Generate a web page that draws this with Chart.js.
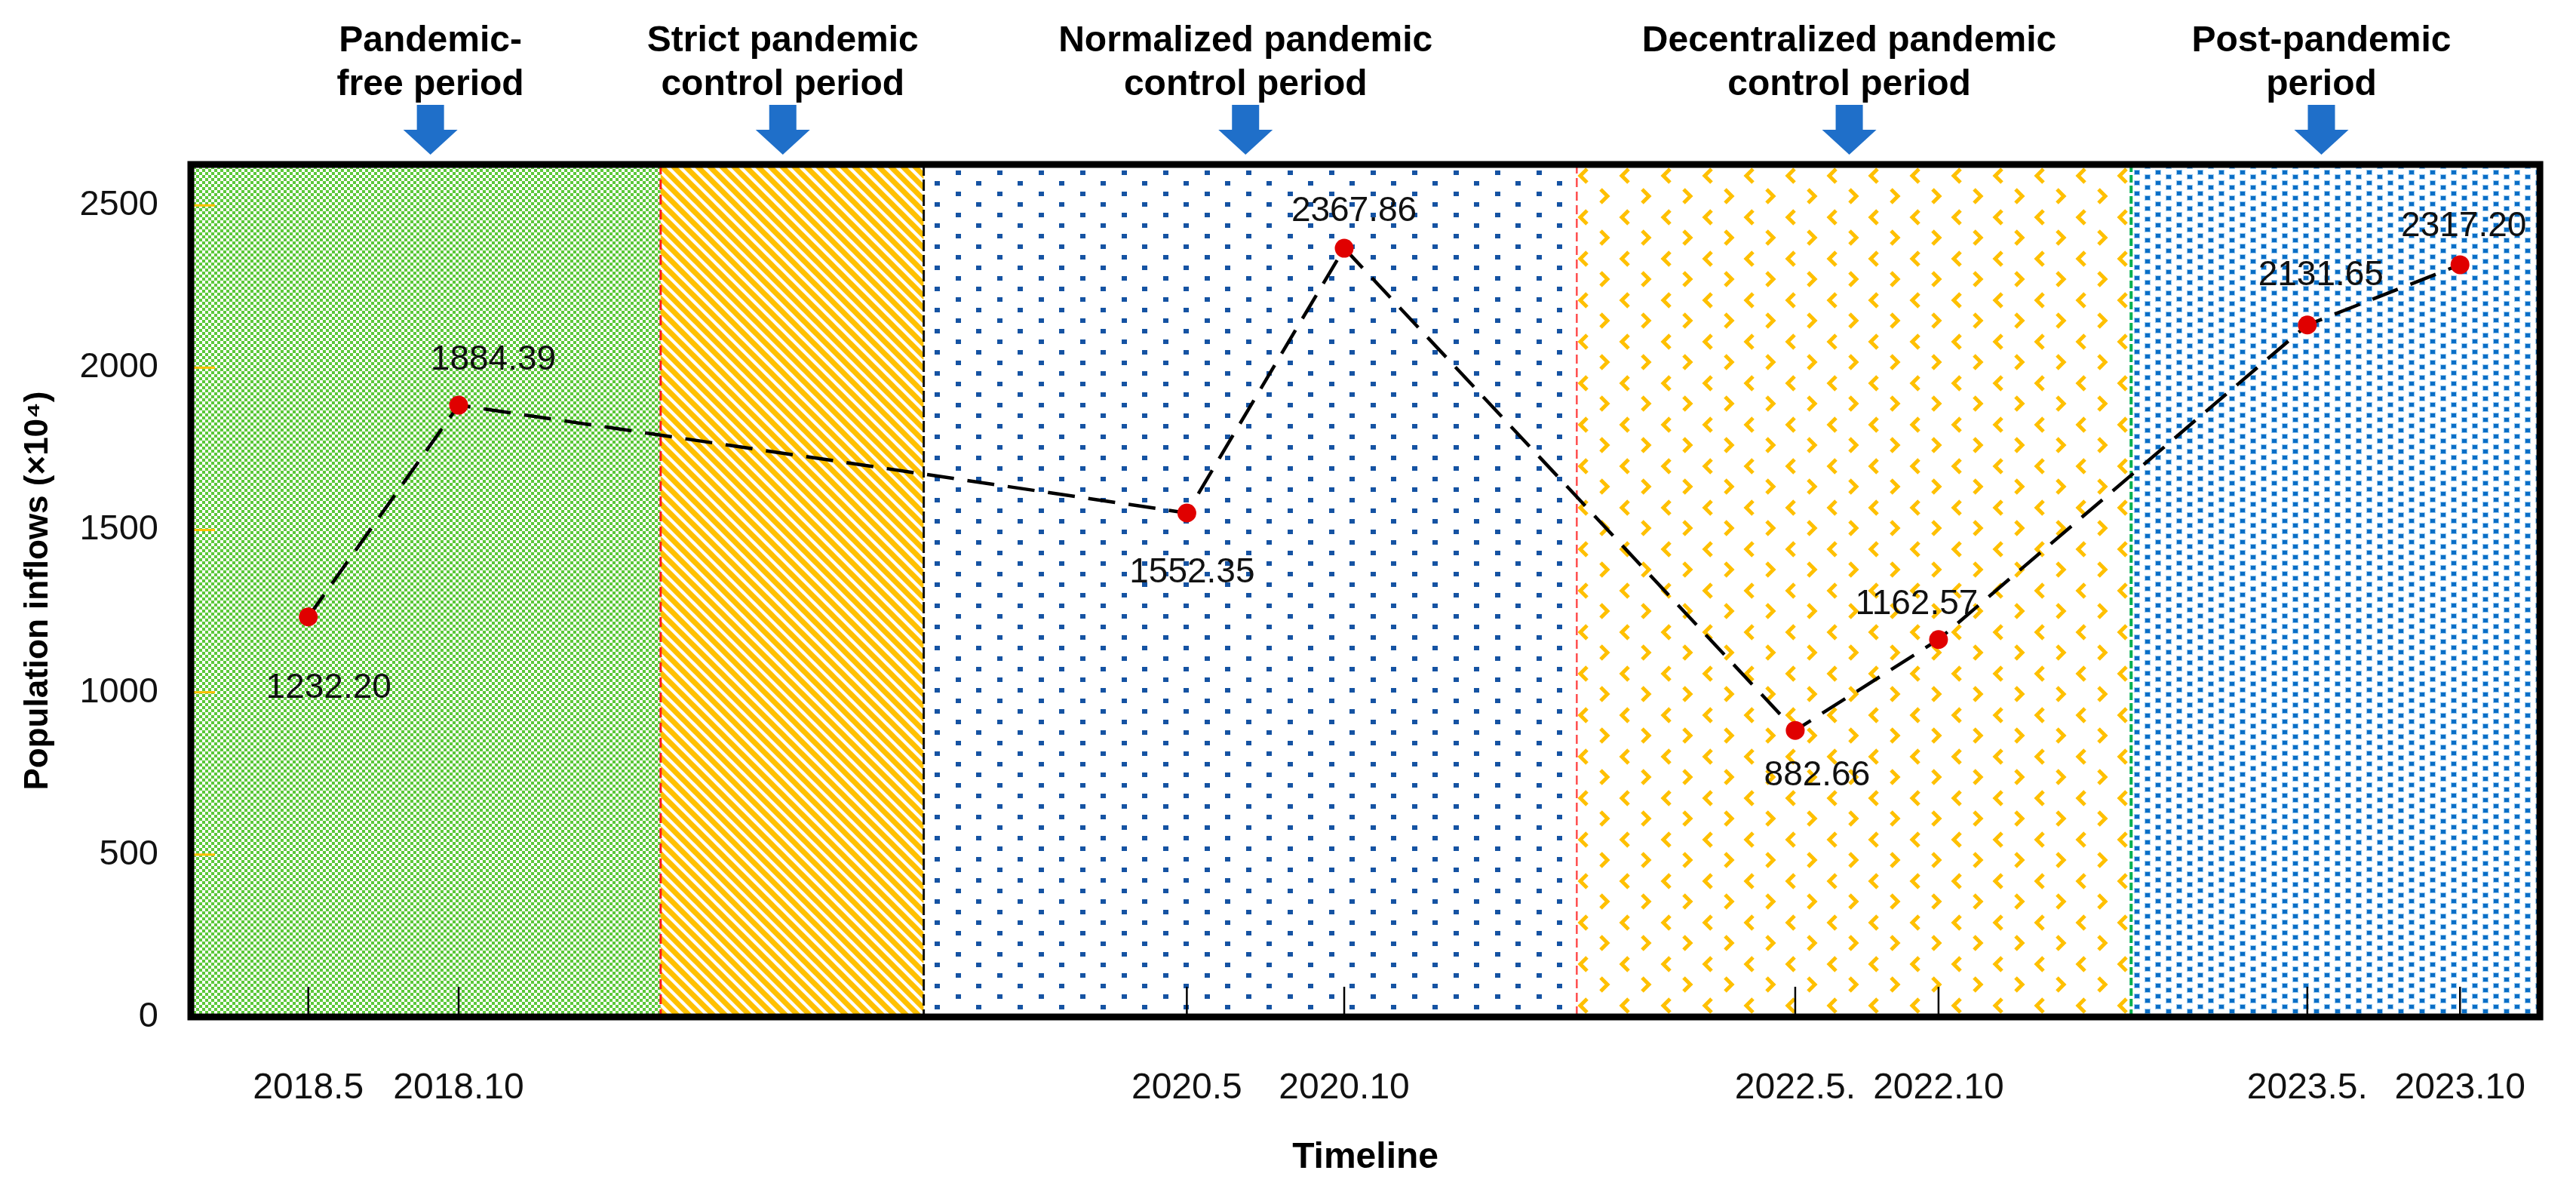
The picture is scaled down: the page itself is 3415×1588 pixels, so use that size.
<!DOCTYPE html>
<html>
<head>
<meta charset="utf-8">
<script src="https://cdn.jsdelivr.net/npm/chart.js@4.4.1/dist/chart.umd.min.js"></script>
<style>
  html, body { margin: 0; padding: 0; background: #fff; }
  #wrap { width: 3415px; height: 1588px; }
</style>
</head>
<body>
<div id="wrap"><canvas id="timelineChart" width="3415" height="1588"></canvas></div>
<script>
// values
const timeLabels = ['2018.5', '2018.10', '2020.5', '2020.10', '2022.5.', '2022.10', '2023.5.', '2023.10'];
// place of each survey along the (non-linear) timeline axis, 0..100
const timelinePos = [5.0, 11.4, 42.4, 49.1, 68.3, 74.4, 90.1, 96.6];
const inflows = [1232.20, 1884.39, 1552.35, 2367.86, 882.66, 1162.57, 2131.65, 2317.20];
const yTicks = [0, 500, 1000, 1500, 2000, 2500];

const periodNames = [
    ['Pandemic-', 'free period'],
    ['Strict pandemic', 'control period'],
    ['Normalized pandemic', 'control period'],
    ['Decentralized pandemic', 'control period'],
    ['Post-pandemic', 'period']
];
const periodBounds = [0, 20, 31.2, 59, 82.6, 100];
const periodMarks = [10.2, 25.2, 44.9, 70.6, 90.7];

const FONT = '"Liberation Sans", Arial, sans-serif';

// pattern tiles for the period backgrounds
function makeTile(w, h, draw) {
    const c = document.createElement('canvas');
    c.width = w;
    c.height = h;
    const g = c.getContext('2d');
    g.fillStyle = '#fff';
    g.fillRect(0, 0, w, h);
    draw(g);
    return c;
}

const tiles = [
    // green checks
    makeTile(8, 8, g => {
        g.fillStyle = '#5cc83a';
        g.fillRect(0, 0, 8, 8);
        g.fillStyle = '#fff';
        g.fillRect(0, 0, 4, 4);
        g.fillRect(4, 4, 4, 4);
    }),
    // orange diagonal stripes
    makeTile(16, 16, g => {
        g.strokeStyle = '#ffc000';
        g.lineWidth = 7;
        [-16, 0, 16].forEach(o => {
            g.beginPath();
            g.moveTo(o - 3, -3);
            g.lineTo(o + 19, 19);
            g.stroke();
        });
    }),
    // sparse dark blue dots
    makeTile(55, 28, g => {
        g.fillStyle = '#1553a3';
        g.fillRect(2, 2, 7, 6);
        g.fillRect(29, 16, 7, 6);
    }),
    // yellow chevrons
    makeTile(55, 55, g => {
        g.strokeStyle = '#ffc000';
        g.lineWidth = 5;
        g.beginPath();
        g.moveTo(14, 4); g.lineTo(5, 13); g.lineTo(14, 22);
        g.stroke();
        g.beginPath();
        g.moveTo(32, 31); g.lineTo(41, 40); g.lineTo(32, 49);
        g.stroke();
    }),
    // dense blue dots
    makeTile(28, 14, g => {
        g.fillStyle = '#9ccbf0';
        g.fillRect(1, 1, 8, 7);
        g.fillRect(15, 7, 8, 7);
        g.fillStyle = '#0a6ec6';
        g.fillRect(2, 2, 6, 5);
        g.fillRect(16, 8, 6, 5);
    })
];

const boundaryStyles = [
    { color: '#ff1a1a', width: 3, dash: [13, 7] },
    { color: '#111111', width: 3, dash: [15, 5] },
    { color: '#ff4d4d', width: 2.5, dash: [12, 6] },
    { color: '#00b050', width: 4, dash: [10, 4] }
];

// label offsets from each point (px)
const labelOffsets = [[27, 95], [46, -60], [7, 79], [13, -49], [29, 60], [-29, -46], [18, -65], [5, -51]];

const periodPlugin = {
    id: 'periods',
    beforeDatasetsDraw(chart) {
        const { ctx, chartArea: a, scales: { x, y } } = chart;
        ctx.save();
        tiles.forEach((tile, i) => {
            const x0 = x.getPixelForValue(periodBounds[i]);
            const x1 = x.getPixelForValue(periodBounds[i + 1]);
            ctx.fillStyle = ctx.createPattern(tile, 'repeat');
            ctx.fillRect(x0, a.top, x1 - x0, a.bottom - a.top);
        });

        boundaryStyles.forEach((s, i) => {
            const bx = x.getPixelForValue(periodBounds[i + 1]);
            ctx.strokeStyle = s.color;
            ctx.lineWidth = s.width;
            ctx.setLineDash(s.dash);
            ctx.beginPath();
            ctx.moveTo(bx, a.top);
            ctx.lineTo(bx, a.bottom);
            ctx.stroke();
        });
        ctx.setLineDash([]);

        // orange y tick marks inside the frame
        ctx.strokeStyle = '#ffc000';
        ctx.lineWidth = 3;
        yTicks.filter(v => v > 0).forEach(v => {
            const py = y.getPixelForValue(v);
            ctx.beginPath();
            ctx.moveTo(a.left, py);
            ctx.lineTo(a.left + 32, py);
            ctx.stroke();
        });

        // black x tick marks
        ctx.strokeStyle = '#000';
        ctx.lineWidth = 2.5;
        timelinePos.forEach(v => {
            const px = x.getPixelForValue(v);
            ctx.beginPath();
            ctx.moveTo(px, a.bottom);
            ctx.lineTo(px, a.bottom - 40);
            ctx.stroke();
        });

        // thick frame
        ctx.strokeStyle = '#000';
        ctx.lineWidth = 9;
        ctx.strokeRect(a.left, a.top, a.right - a.left, a.bottom - a.top);
        ctx.restore();
    },
    afterDatasetsDraw(chart) {
        const { ctx } = chart;
        const meta = chart.getDatasetMeta(0);
        ctx.save();
        ctx.font = '46px ' + FONT;
        ctx.fillStyle = '#111';
        ctx.textAlign = 'center';
        ctx.textBaseline = 'middle';
        meta.data.forEach((pt, i) => {
            ctx.fillText(inflows[i].toFixed(2), pt.x + labelOffsets[i][0], pt.y + labelOffsets[i][1]);
        });
        ctx.restore();
    },
    afterDraw(chart) {
        const { ctx, scales: { x } } = chart;
        ctx.save();
        ctx.font = 'bold 48px ' + FONT;
        ctx.textAlign = 'center';
        ctx.textBaseline = 'alphabetic';
        periodNames.forEach((lines, i) => {
            const cx = x.getPixelForValue(periodMarks[i]);
            ctx.fillStyle = '#000';
            ctx.fillText(lines[0], cx, 68);
            ctx.fillText(lines[1], cx, 126);
            // blue arrow
            ctx.fillStyle = '#1f6fc9';
            ctx.fillRect(cx - 18, 139, 36, 34);
            ctx.beginPath();
            ctx.moveTo(cx - 36, 172);
            ctx.lineTo(cx + 36, 172);
            ctx.lineTo(cx, 205);
            ctx.closePath();
            ctx.fill();
        });
        ctx.restore();
    }
};

new Chart(document.getElementById('timelineChart'), {
    type: 'line',
    data: {
        datasets: [{
            label: 'Population inflows',
            data: timelinePos.map((p, i) => ({ x: p, y: inflows[i] })),
            borderColor: '#000',
            borderWidth: 4.5,
            borderDash: [36, 18],
            pointRadius: 12.5,
            pointBackgroundColor: '#e00000',
            pointBorderWidth: 0,
            tension: 0,
            clip: false
        }]
    },
    options: {
        responsive: false,
        animation: false,
        devicePixelRatio: 1,
        layout: { padding: { top: 218, right: 30, left: 0, bottom: 0 } },
        plugins: {
            legend: { display: false },
            tooltip: { enabled: false }
        },
        scales: {
            x: {
                type: 'linear',
                min: 0,
                max: 100,
                grid: { display: false, drawTicks: false },
                border: { display: false },
                afterBuildTicks: s => { s.ticks = timelinePos.map(v => ({ value: v })); },
                afterFit: s => { s.height = 240; },
                ticks: {
                    autoSkip: false,
                    maxRotation: 0,
                    padding: 66,
                    color: '#111',
                    font: { size: 48, family: FONT },
                    callback: (v, i) => timeLabels[i]
                },
                title: {
                    display: true,
                    text: 'Timeline',
                    color: '#000',
                    font: { size: 48, weight: 'bold', family: FONT },
                    padding: { top: 0, bottom: 24 }
                }
            },
            y: {
                min: 0,
                max: 2626,
                grid: { display: false, drawTicks: false },
                border: { display: false },
                afterBuildTicks: s => { s.ticks = yTicks.map(v => ({ value: v })); },
                afterFit: s => { s.width = 253; },
                ticks: {
                    padding: 43,
                    color: '#111',
                    font: { size: 47, family: FONT },
                    callback: v => String(v)
                },
                title: {
                    display: true,
                    text: 'Population inflows (×10⁴)',
                    color: '#000',
                    font: { size: 44, weight: 'bold', family: FONT },
                    padding: { top: 24, bottom: 0 }
                }
            }
        }
    },
    plugins: [periodPlugin]
});
</script>
</body>
</html>
